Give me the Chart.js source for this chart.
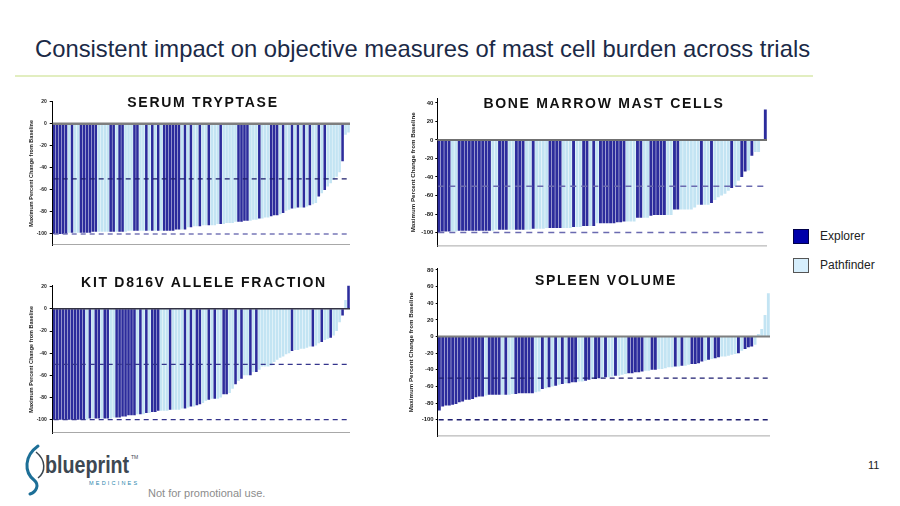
<!DOCTYPE html>
<html><head><meta charset="utf-8">
<script src="https://cdn.jsdelivr.net/npm/chart.js@4.4.1/dist/chart.umd.min.js"></script>
<style>
html,body{margin:0;padding:0;background:#fff;}
body{width:900px;height:506px;position:relative;overflow:hidden;font-family:"Liberation Sans",Arial,sans-serif;}
.abs{position:absolute;white-space:nowrap;}
#title{left:35px;top:35px;font-size:23.8px;color:#1b2a47;}
#rule{left:15px;top:75px;width:798px;height:2px;background:#e2eec0;}
.ct{position:absolute;font-weight:bold;font-size:14px;letter-spacing:1.7px;color:#111;white-space:nowrap;transform:translate(-50%,-50%);}
canvas{position:absolute;}
.lbox{position:absolute;width:16px;height:15px;box-sizing:border-box;}
.ltxt{position:absolute;font-size:12px;color:#222;}
</style></head><body>
<div id="title" class="abs">Consistent impact on objective measures of mast cell burden across trials</div>
<div id="rule" class="abs"></div>

<canvas id="cSerum" width="330" height="156" style="left:20px;top:95px;"></canvas>
<canvas id="cBM" width="367" height="160" style="left:400px;top:92px;"></canvas>
<canvas id="cKit" width="330" height="160" style="left:20px;top:279px;"></canvas>
<canvas id="cSpleen" width="370" height="180" style="left:400px;top:262px;"></canvas>

<div class="ct" style="left:203px;top:102px;">SERUM TRYPTASE</div>
<div class="ct" style="left:604px;top:103px;">BONE MARROW MAST CELLS</div>
<div class="ct" style="left:204px;top:282px;">KIT D816V ALLELE FRACTION</div>
<div class="ct" style="left:606px;top:280px;">SPLEEN VOLUME</div>

<div class="lbox" style="left:793px;top:229px;background:#0000aa;border:1px solid #00004a;"></div>
<div class="ltxt" style="left:820px;top:229px;">Explorer</div>
<div class="lbox" style="left:793px;top:258px;background:#d6eefc;border:1px solid #555;"></div>
<div class="ltxt" style="left:820px;top:258px;">Pathfinder</div>

<svg class="abs" style="left:20px;top:442px;" width="40" height="54" viewBox="0 0 40 54">
  <path d="M18 4 C4 14 4 30 14 38 C20 43 16 50 10 52" stroke="#1d6f97" stroke-width="3" fill="none" stroke-linecap="round"/>
  <path d="M16 10 C26 18 26 30 18 36" stroke="#3a4650" stroke-width="1.5" fill="none"/>
</svg>
<div class="abs" style="left:45px;top:451px;font-weight:bold;font-size:24px;color:#3d4852;transform-origin:left top;transform:scaleX(0.82);">blueprint</div>
<div class="abs" style="left:131px;top:454px;font-size:5px;color:#3d4852;">TM</div>
<div class="abs" style="left:89px;top:480px;font-size:5.5px;letter-spacing:2.2px;color:#2a86ad;">MEDICINES</div>
<div class="abs" style="left:868px;top:459px;font-size:11px;color:#222;">11</div>
<div class="abs" style="left:148px;top:487px;font-size:11px;color:#8c8c8c;">Not for promotional use.</div>

<script>
// ---------- DATA ----------
const serumValues = [-100,-100,-100,-100,-100,-99,-99,-99,-99,-99,-99,-99,-99,
  -98,-98,-98,-98,-98,-98,-98,-98,-98,-98,-98,-98,
  -97,-97,-97,-97,-97,-97,-97,-97,-97,-97,-97,-97,-97,-97,-97,-97,
  -96,-96,-96,-96,-94,-94,-93,
  -93,-93,-92,-92,-92,-92,-92,-91,
  -91,-91,-90,-90,-90,
  -89,-89,-89,-88,-88,-88,
  -87,-87,-86,-86,-85,-85,
  -84,-83,-83,-82,-81,
  -79,-78,-77,-77,-76,-76,-76,
  -75,-74,-73,-72,
  -66,-63,-60,-57,-54,-51,-48,-44,-34,-10,-8];
const serumGroups = "EEEEEPEPPEEEEEEPPPPEEPEEPPPEEPPEPEPEPEEEEEEPEPEPPEPPEPPPEPPPPPEEEEPPPEPPPEEEPEPPEPEPEPEPPEPEPPPPPEPP";

const bmValues = [-100,-99,-99,-99,-99,-99,
  -98,-98,-98,-98,-98,-98,-98,-98,-98,-98,-98,
  -97,-97,-97,-97,-97,-97,-97,-97,-97,-97,-97,
  -96,-96,-96,-96,-95,-95,-95,-95,-95,-95,-95,-95,
  -94,-94,-94,-93,-93,-93,-93,
  -90,-90,-90,-90,-90,-90,-89,-89,
  -88,-88,-88,-88,-84,-84,-84,-84,-82,
  -81,-81,-81,-81,-81,-81,-75,-75,-75,-75,-75,-75,-73,
  -70,-70,-70,-70,-68,-65,-62,-60,-58,-55,-52,-50,-44,-40,-34,-33,-17,-13,-13,0,33];
const bmGroups = "EEEEPPEEEEEEEEEEPPEEEPPEEEPPEPPPPEEEEPPPEPPEEPEPEEEEEEEEPPPEEPPEEEEEPPEEPPPPPPEPPEPPPPPEPPEEPEPPPE";

const kitValues = [-100,-100,-100,-100,-100,-100,-100,-100,-100,-100,-100,-100,
  -99,-99,-99,-99,-99,-99,-99,-99,-98,-98,-98,-97,-97,-96,-96,-96,-95,-95,-95,
  -94,-94,-93,-93,-92,-92,-92,-92,-91,-91,-91,-91,-90,-90,-89,-88,-88,-87,-86,-85,
  -83,-82,-81,-81,-81,-80,-77,-77,-76,-72,-68,-65,-63,-60,-60,-60,-57,-57,-55,
  -52,-52,-52,-51,-48,-46,-44,-43,-41,-40,-38,-37,-37,-36,-36,-35,-34,-34,-33,
  -31,-30,-28,-27,-26,-24,-20,-12,-6,8,21];
const kitGroups = "EEEEEEEEEEEPEPEEPEEPPEEEEEEEPEPEPEEEPPPEPPPPEPEPEEPPEPEPPEEPPEPEPPEPEPPPPPPPPPPPEPPPPPPEPPEPPEPPPEPE";

const spleenValues = [-89,-84,-83,-83,-82,-81,-79,-78,-76,-76,-75,-73,-72,-72,-71,
  -70,-70,-70,-70,-70,-70,-70,-69,-69,-68,-68,-68,-68,-68,-67,-66,
  -63,-62,-61,-60,-59,-58,-57,-56,-56,-55,-55,-54,-54,-53,-52,-51,-51,-50,-50,
  -49,-49,-48,-47,-47,-46,-45,-44,-44,-43,-43,-42,-41,-41,-40,-40,-39,-39,-38,
  -37,-37,-36,-36,-35,-35,-34,-33,-33,-32,-30,-29,-28,-27,-26,-25,-24,-24,-23,
  -22,-21,-20,-17,-15,-13,-12,-10,3,9,26,52];
const spleenGroups = "EEEEEEEEEEEEEEPEEEEPEPPEEEEEEPPEPEPEPEPEEEPPEEPEEPEPPEPPPEEEEEPPEEPPPPPEPEPPEEEEPEPEEPPPPPEPEEEPPPPP";

const serumTicks = [20,0,-20,-40,-60,-80,-100];
const bmTicks = [40,20,0,-20,-40,-60,-80,-100];
const kitTicks = [20,0,-20,-40,-60,-80,-100];
const spleenTicks = [80,60,40,20,0,-20,-40,-60,-80,-100];

const serumRefs = [-50,-100];
const bmRefs = [-50,-100];
const kitRefs = [-50,-100];
const spleenRefs = [-50,-100];

const yTitle = "Maximum Percent Change from Baseline";

// ---------- STYLE ----------
const DARK = '#2c2c9c';
const LIGHT = '#c3e4f3';

const refPlugin = {
  id: 'refLines',
  afterDatasetsDraw(chart, args, o) {
    const {ctx, chartArea: a, scales: {y}} = chart;
    ctx.save();
    ctx.strokeStyle = o.bottomColor; ctx.lineWidth = 1; ctx.setLineDash([]);
    ctx.beginPath(); ctx.moveTo(a.left, a.bottom - 0.5); ctx.lineTo(a.right, a.bottom - 0.5); ctx.stroke();
    const yz = y.getPixelForValue(0);
    ctx.strokeStyle = o.zeroColor; ctx.lineWidth = o.zeroWidth;
    ctx.beginPath(); ctx.moveTo(a.left, yz); ctx.lineTo(a.right, yz); ctx.stroke();
    o.refs.forEach((v, i) => {
      const st = o.refStyles[i];
      const py = y.getPixelForValue(v);
      ctx.strokeStyle = st.color; ctx.lineWidth = st.width; ctx.setLineDash(st.dash);
      ctx.beginPath(); ctx.moveTo(a.left + 1, py); ctx.lineTo(a.right, py); ctx.stroke();
    });
    ctx.restore();
  }
};

function makeChart(id, c) {
  const groups = c.groups.split('');
  return new Chart(document.getElementById(id), {
    type: 'bar',
    data: {
      labels: c.values.map((v, i) => String(i + 1)),
      datasets: [{
        data: c.values,
        backgroundColor: c.values.map((v, i) => groups[i] === 'E' ? DARK : LIGHT),
        borderWidth: 0,
        barPercentage: 0.86,
        categoryPercentage: 1
      }]
    },
    options: {
      responsive: false, animation: false, devicePixelRatio: 1,
      layout: {padding: {top: c.padTop, bottom: c.padBottom, left: 0, right: 0}},
      plugins: {
        legend: {display: false}, tooltip: {enabled: false},
        refLines: {refs: c.refs, refStyles: c.refStyles, zeroColor: c.zeroColor, zeroWidth: c.zeroWidth, bottomColor: '#a8a8a8'}
      },
      scales: {
        x: {display: false, offset: true},
        y: {
          min: c.min, max: c.max,
          afterBuildTicks: s => { s.ticks = c.ticks.map(v => ({value: v})); },
          afterFit: s => { s.width = c.axisW; },
          ticks: {font: {size: c.tickSize, weight: 'bold', family: 'Liberation Sans'}, color: '#222', padding: c.tickPad},
          grid: {drawOnChartArea: false, drawTicks: true, tickLength: c.tickLen, color: '#000'},
          border: {color: '#000', width: 1},
          title: {display: true, text: yTitle, color: '#222',
            font: {size: c.titleSize, weight: 'bold', family: 'Liberation Sans'},
            padding: {top: c.titlePad, bottom: 0}}
        }
      }
    },
    plugins: [refPlugin]
  });
}

makeChart('cSerum', {values: serumValues, groups: serumGroups, ticks: serumTicks, refs: serumRefs,
  refStyles: [{color: '#1c1c6a', width: 1.3, dash: [5, 4]}, {color: '#7878b8', width: 1.7, dash: [5, 4]}],
  zeroColor: '#7f7f7f', zeroWidth: 2.5, min: -110, max: 20, padTop: 6.7, padBottom: 3,
  axisW: 32.7, tickSize: 5, tickPad: 3, tickLen: 3, titleSize: 5.5, titlePad: 8});

makeChart('cBM', {values: bmValues, groups: bmGroups, ticks: bmTicks, refs: bmRefs,
  refStyles: [{color: '#6a6ab0', width: 1.7, dash: [6, 5]}, {color: '#6a6ab0', width: 1.7, dash: [6, 5]}],
  zeroColor: '#707070', zeroWidth: 2, min: -115, max: 45, padTop: 6.3, padBottom: 2,
  axisW: 37.3, tickSize: 6, tickPad: 2, tickLen: 2, titleSize: 6.2, titlePad: 9.6});

makeChart('cKit', {values: kitValues, groups: kitGroups, ticks: kitTicks, refs: kitRefs,
  refStyles: [{color: '#34348c', width: 1.3, dash: [5, 4]}, {color: '#34348c', width: 1.3, dash: [5, 4]}],
  zeroColor: '#333344', zeroWidth: 1.5, min: -112, max: 21, padTop: 6.6, padBottom: 2.3,
  axisW: 32.7, tickSize: 5, tickPad: 3, tickLen: 3, titleSize: 5.5, titlePad: 8});

makeChart('cSpleen', {values: spleenValues, groups: spleenGroups, ticks: spleenTicks, refs: spleenRefs,
  refStyles: [{color: '#1e1e70', width: 1.3, dash: [5, 4]}, {color: '#1e1e70', width: 1.3, dash: [5, 4]}],
  zeroColor: '#7f7f7f', zeroWidth: 2, min: -120, max: 82, padTop: 6.3, padBottom: 2,
  axisW: 37.7, tickSize: 6, tickPad: 2, tickLen: 2, titleSize: 6.2, titlePad: 8});
</script>
</body></html>
